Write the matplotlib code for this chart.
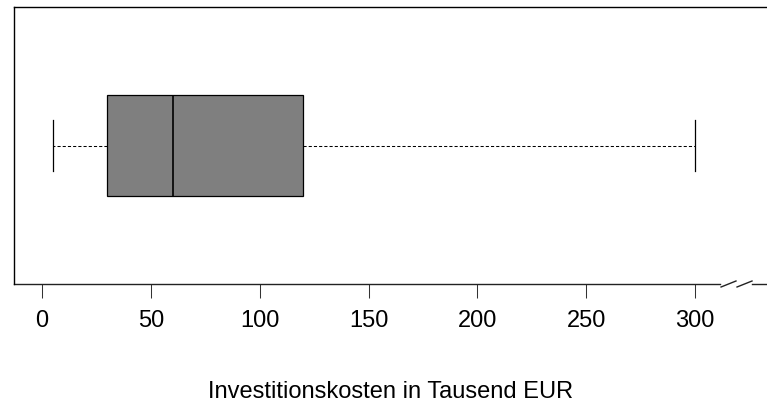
import matplotlib
matplotlib.use("Agg")
import matplotlib.pyplot as plt

# Data (five-number summary, Tausend EUR)
whisker_low = 5
q1 = 30
median = 60
q3 = 120
whisker_high = 300
tick_values = [0, 50, 100, 150, 200, 250, 300]
xlabel = "Investitionskosten in Tausend EUR"

plt.rcParams['font.family'] = ['Liberation Sans', 'DejaVu Sans']

fig = plt.figure(figsize=(7.67, 4.03), dpi=100)
ax = fig.add_axes([14/767, 1-284/403, 753/767, 277/403])

stats = [dict(whislo=whisker_low, q1=q1, med=median, q3=q3, whishi=whisker_high, fliers=[])]
ax.bxp(stats, positions=[1], widths=0.368, capwidths=0.184, orientation='horizontal',
       patch_artist=True, showfliers=False,
       boxprops=dict(facecolor='#7f7f7f', edgecolor='black', linewidth=0.9),
       medianprops=dict(color='black', linewidth=1.2),
       whiskerprops=dict(color='black', linewidth=0.75, linestyle=(0, (3, 2))),
       capprops=dict(color='black', linewidth=0.9))

ax.set_xlim(-12.9, 333)
ax.set_ylim(0.5, 1.5)
ax.set_yticks([])
ax.set_xticks(tick_values)
ax.set_xticklabels([str(v) for v in tick_values], fontsize=17)
ax.tick_params(axis='x', length=10, width=0.75, pad=9, color='#333333')
ax.set_xlabel(xlabel, fontsize=17, labelpad=35)

ax.spines['right'].set_visible(False)
ax.spines['bottom'].set_visible(False)
for s in ['left', 'top']:
    ax.spines[s].set_linewidth(1.0)
    ax.spines[s].set_color('black')

# bottom axis line with break marks
kw = dict(transform=ax.transAxes, clip_on=False, color='#222222', linewidth=1.0)
ax.plot([0, 0.9376], [0, 0], **kw)
ax.plot([0.9390, 0.9588], [-0.0108, 0.0108], **kw)
ax.plot([0.9602, 0.9801], [-0.0108, 0.0108], **kw)
ax.plot([0.9801, 1.0], [0, 0], **kw)

fig.savefig("out.png", dpi=100)
